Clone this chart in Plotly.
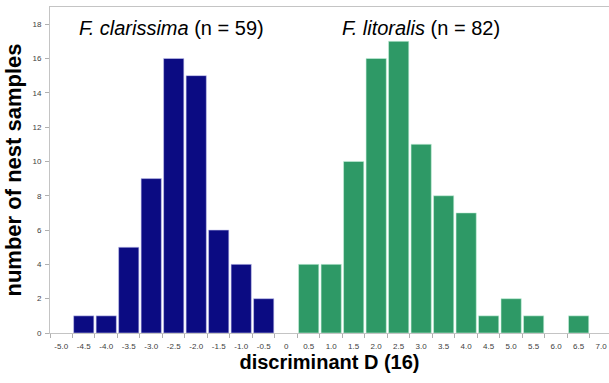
import plotly.graph_objects as go

# Histogram classes (bin centres) of discriminant D (16)
bins = ["-5.0", "-4.5", "-4.0", "-3.5", "-3.0", "-2.5", "-2.0", "-1.5", "-1.0", "-0.5",
        "0", "0.5", "1.0", "1.5", "2.0", "2.5", "3.0", "3.5", "4.0", "4.5",
        "5.0", "5.5", "6.0", "6.5", "7.0"]

clarissima_bins = ["-4.5", "-4.0", "-3.5", "-3.0", "-2.5", "-2.0", "-1.5", "-1.0", "-0.5"]
clarissima_counts = [1, 1, 5, 9, 16, 15, 6, 4, 2]

litoralis_bins = ["0.5", "1.0", "1.5", "2.0", "2.5", "3.0", "3.5", "4.0", "4.5",
                  "5.0", "5.5", "6.5"]
litoralis_counts = [4, 4, 10, 16, 17, 11, 8, 7, 1, 2, 1, 1]

y_ticks = [0, 2, 4, 6, 8, 10, 12, 14, 16, 18]

FONT = "Liberation Sans, Arial, sans-serif"

fig = go.Figure()
fig.add_trace(go.Bar(
    x=clarissima_bins, y=clarissima_counts, name="F. clarissima",
    marker=dict(color="#0b0b82", line=dict(color="#c8c8f0", width=0.6)),
))
fig.add_trace(go.Bar(
    x=litoralis_bins, y=litoralis_counts, name="F. litoralis",
    marker=dict(color="#2e9966", line=dict(color="#c8f0dc", width=0.6)),
))

fig.update_layout(
    width=609, height=383,
    margin=dict(l=50, r=0, t=7, b=50),
    paper_bgcolor="white", plot_bgcolor="white",
    barmode="overlay", bargap=0.1,
    showlegend=False,
    font=dict(family=FONT, color="#000000"),
    xaxis=dict(
        type="category", categoryorder="array", categoryarray=bins,
        range=[-0.5, 24.35],
        tickmode="array", tickvals=bins, ticktext=bins, tickangle=0,
        tickson="boundaries", ticks="outside", ticklen=4, tickcolor="#b0b0b0",
        ticklabelstandoff=5,
        tickfont=dict(size=8, color="#404040"),
        showline=True, linecolor="#c4c4c4", linewidth=1, mirror=True,
        showgrid=False, zeroline=False,
        title=dict(text="<b>discriminant D (16)</b>", font=dict(size=20), standoff=4),
    ),
    yaxis=dict(
        range=[0, 19],
        tickmode="array", tickvals=y_ticks,
        ticks="outside", ticklen=4, tickcolor="#b0b0b0",
        ticklabelstandoff=2,
        tickfont=dict(size=8, color="#404040"),
        showline=True, linecolor="#c4c4c4", linewidth=1,
        showgrid=False, zeroline=False,
        title=dict(text="<b>number of nest samples</b>", font=dict(size=22), standoff=4),
    ),
    annotations=[
        dict(x=4.92, y=17.8, xref="x", yref="y", showarrow=False,
             text="<i>F. clarissima</i> (n = 59)", font=dict(size=20, color="#000000"),
             xanchor="center", yanchor="middle"),
        dict(x=16.0, y=17.8, xref="x", yref="y", showarrow=False,
             text="<i>F. litoralis</i> (n = 82)", font=dict(size=20, color="#000000"),
             xanchor="center", yanchor="middle"),
    ],
)

fig.write_html("out.html")
